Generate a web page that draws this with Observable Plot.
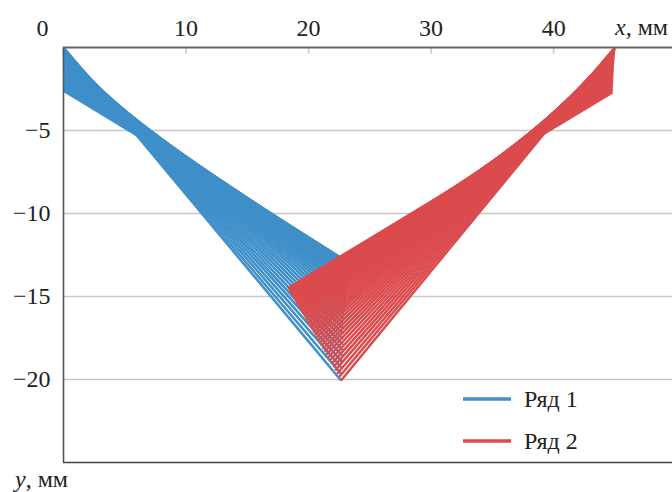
<!DOCTYPE html>
<html>
<head>
<meta charset="utf-8">
<script src="https://cdn.jsdelivr.net/npm/d3@7"></script>
<script src="https://cdn.jsdelivr.net/npm/@observablehq/plot@0.6"></script>
<style>
  html, body { margin: 0; padding: 0; background: #fff; }
</style>
</head>
<body>
<div id="chart"></div>
<script>
// ---- data (mm) ----
const seriesNames = ["Ряд 1", "Ряд 2"];
const seriesColors = ["#3f8fc9", "#db4b4d"];
const xTicks = [10, 20, 30, 40];
const yTicks = [-5, -10, -15, -20];

// Ряд 1: segments from (0, blueY0) to (blueX1, blueY1)
const blueY0 = [0,-0.03,-0.05,-0.08,-0.12,-0.15,-0.19,-0.22,-0.26,-0.31,-0.35,-0.40,-0.44,-0.49,-0.55,-0.60,-0.66,-0.71,-0.77,-0.84,-0.90,-0.97,-1.03,-1.10,-1.18,-1.25,-1.33,-1.40,-1.48,-1.57,-1.65,-1.74,-1.82,-1.91,-2.01,-2.10,-2.20,-2.29,-2.39,-2.50,-2.60];
const blueX1 = [22.65,22.67,22.70,22.72,22.75,22.77,22.79,22.82,22.84,22.86,22.89,22.91,22.94,22.96,22.98,23.01,23.03,23.05,23.08,23.10,23.13,23.15,23.17,23.20,23.22,23.24,23.27,23.29,23.32,23.34,23.36,23.39,23.41,23.43,23.46,23.48,23.51,23.53,23.55,23.58,23.60];
const blueY1 = [-20.06,-19.67,-19.29,-18.92,-18.56,-18.22,-17.88,-17.56,-17.25,-16.95,-16.66,-16.38,-16.11,-15.86,-15.61,-15.38,-15.16,-14.95,-14.75,-14.56,-14.38,-14.21,-14.06,-13.92,-13.78,-13.66,-13.55,-13.46,-13.37,-13.29,-13.23,-13.17,-13.13,-13.10,-13.08,-13.07,-13.08,-13.09,-13.12,-13.15,-13.20];

// Ряд 2: segments from (redX0, redY0) to (redX1, redY1)
const redX0 = [45.000,44.995,44.990,44.985,44.980,44.975,44.970,44.965,44.960,44.955,44.950,44.945,44.940,44.935,44.930,44.925,44.920,44.915,44.910,44.905,44.900,44.895,44.890,44.885,44.880,44.875,44.870,44.865,44.860,44.855,44.850,44.845,44.840,44.835,44.830,44.825,44.820,44.815,44.810,44.805,44.800];
const redY0 = [0,-0.02,-0.04,-0.06,-0.09,-0.12,-0.15,-0.18,-0.22,-0.26,-0.30,-0.34,-0.39,-0.44,-0.49,-0.54,-0.60,-0.66,-0.72,-0.78,-0.85,-0.92,-0.99,-1.06,-1.14,-1.22,-1.30,-1.38,-1.47,-1.56,-1.65,-1.74,-1.84,-1.94,-2.04,-2.14,-2.25,-2.36,-2.47,-2.58,-2.70];
const redX1 = [22.65,22.49,22.33,22.17,22.02,21.87,21.72,21.57,21.43,21.29,21.15,21.02,20.89,20.76,20.63,20.51,20.39,20.27,20.15,20.04,19.93,19.82,19.72,19.62,19.52,19.42,19.33,19.24,19.15,19.06,18.98,18.90,18.82,18.75,18.68,18.61,18.54,18.48,18.41,18.36,18.30];
const redY1 = [-20.06,-19.85,-19.65,-19.45,-19.25,-19.06,-18.87,-18.69,-18.50,-18.32,-18.15,-17.98,-17.81,-17.64,-17.48,-17.32,-17.17,-17.02,-16.87,-16.73,-16.59,-16.45,-16.31,-16.18,-16.06,-15.93,-15.81,-15.70,-15.58,-15.47,-15.37,-15.27,-15.17,-15.07,-14.98,-14.89,-14.81,-14.72,-14.65,-14.57,-14.50];

const blue = blueY0.map((d, i) => ({x1: 0, y1: d, x2: blueX1[i], y2: blueY1[i]}));
const red = redX0.map((d, i) => ({x1: d, y1: redY0[i], x2: redX1[i], y2: redY1[i]}));

const FONT = "'Liberation Serif', 'Times New Roman', 'DejaVu Serif', serif";

const plot = Plot.plot({
  width: 672,
  height: 492,
  marginLeft: 63,
  marginRight: 0,
  marginTop: 47,
  marginBottom: 30,
  x: {domain: [0, 49.7], axis: null},
  y: {domain: [-25, 0], axis: null},
  style: {fontFamily: FONT, fontSize: "24px", background: "#fff", color: "#222"},
  marks: [
    Plot.ruleY(yTicks, {stroke: "#c6c6c6", strokeWidth: 1.6}),
    Plot.ruleX(xTicks, {y1: 0, y2: -0.4, stroke: "#c8c8c8", strokeWidth: 1.5}),
    Plot.link(blue, {x1: "x1", y1: "y1", x2: "x2", y2: "y2", stroke: seriesColors[0], strokeWidth: 2.5}),
    Plot.link(red, {x1: "x1", y1: "y1", x2: "x2", y2: "y2", stroke: seriesColors[1], strokeWidth: 2.5}),
    Plot.ruleX([0], {stroke: "#555", strokeWidth: 1.6}),
    Plot.ruleY([0], {stroke: "#666", strokeWidth: 2}),
    Plot.ruleY([-25], {stroke: "#444", strokeWidth: 1.5}),
    Plot.text(xTicks, {x: d => d, frameAnchor: "top", lineAnchor: "bottom", dy: -12, text: d => String(d), fill: "#222", fontFamily: FONT}),
    Plot.text(["0"], {frameAnchor: "top-left", lineAnchor: "bottom", textAnchor: "middle", dx: -21, dy: -12, text: d => d, fill: "#222", fontFamily: FONT}),
    Plot.text(yTicks, {y: d => d, frameAnchor: "left", textAnchor: "end", dx: -13, text: d => "\u2212" + Math.abs(d), fill: "#222", fontFamily: FONT})
  ]
});

document.getElementById("chart").appendChild(plot);

const svg = d3.select(plot);
svg.append("text")
  .attr("x", 668).attr("y", 35)
  .attr("text-anchor", "end")
  .attr("font-family", FONT).attr("font-size", 24).attr("fill", "#222")
  .html('<tspan font-style="italic">x</tspan>, мм');
svg.append("text")
  .attr("x", 15).attr("y", 487)
  .attr("text-anchor", "start")
  .attr("font-family", FONT).attr("font-size", 24).attr("fill", "#222")
  .html('<tspan font-style="italic">y</tspan>, мм');

const legend = svg.append("g").attr("transform", "translate(463,399)");
seriesNames.forEach((name, i) => {
  const g = legend.append("g").attr("transform", `translate(0,${i * 42})`);
  g.append("line").attr("x1", 0).attr("x2", 48).attr("y1", 0).attr("y2", 0)
    .attr("stroke", seriesColors[i]).attr("stroke-width", 3.5);
  g.append("text").attr("x", 61).attr("y", 0).attr("dy", "0.35em")
    .attr("text-anchor", "start")
    .attr("font-family", FONT).attr("font-size", 24).attr("fill", "#222")
    .text(name);
});
</script>
</body>
</html>
